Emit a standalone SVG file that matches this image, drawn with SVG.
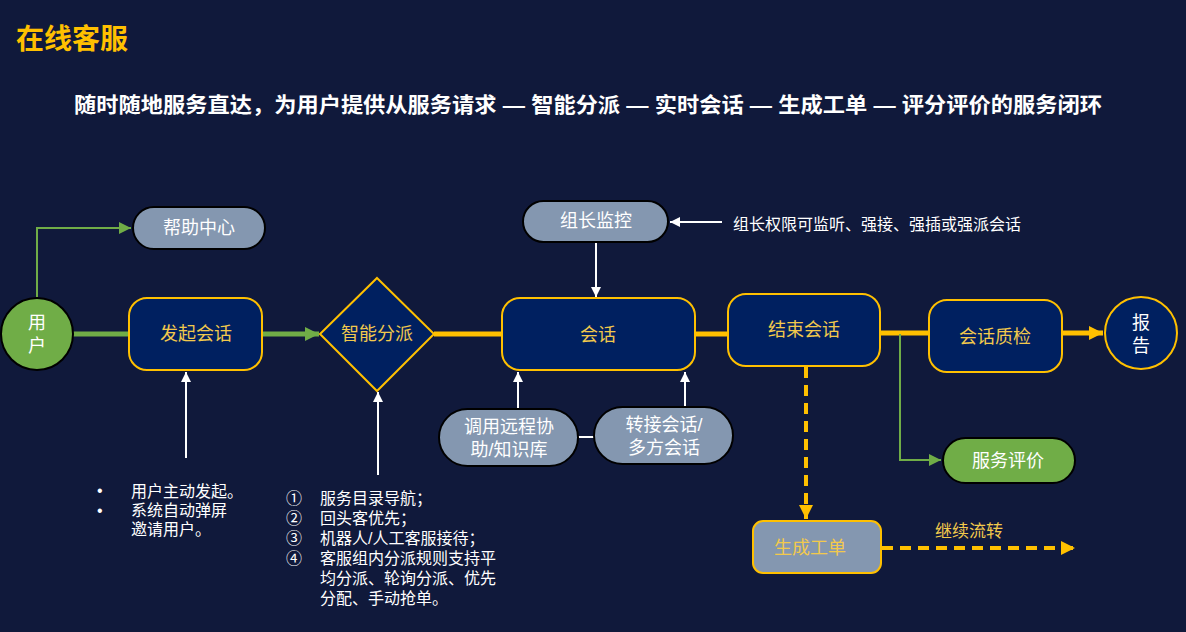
<svg xmlns="http://www.w3.org/2000/svg" width="1186" height="632" viewBox="0 0 1186 632">
<defs>
<style>
text{font-family:"Liberation Sans","Noto Sans CJK SC",sans-serif}
.navy{fill:#002060;stroke:#FFC000;stroke-width:2}
.pill{fill:#8497B0;stroke:#000;stroke-width:2}
.ytxt{fill:#F2C94C;font-size:18px;text-anchor:middle;dominant-baseline:central}
.wtxt{fill:#fff;font-size:18px;text-anchor:middle;dominant-baseline:central}
.note{fill:#fff;font-size:16px}
.yl{stroke:#FFC000;stroke-width:5;fill:none}
.gl{stroke:#70AD47;fill:none}
.wl{stroke:#fff;stroke-width:2;fill:none}
.dash{stroke:#FFC000;stroke-width:4;stroke-dasharray:11 7;fill:none}
</style>
<marker id="aw" viewBox="0 0 10 10" refX="10" refY="5" markerWidth="10" markerHeight="10" markerUnits="userSpaceOnUse" orient="auto"><path d="M0,0L10,5L0,10z" fill="#fff"/></marker>
<marker id="ag" viewBox="0 0 10 10" refX="10" refY="5" markerWidth="12" markerHeight="12" markerUnits="userSpaceOnUse" orient="auto"><path d="M0,0L10,5L0,10z" fill="#70AD47"/></marker>
<marker id="agb" viewBox="0 0 10 10" refX="10" refY="5" markerWidth="14" markerHeight="14" markerUnits="userSpaceOnUse" orient="auto"><path d="M0,0L10,5L0,10z" fill="#70AD47"/></marker>
<marker id="ay" viewBox="0 0 10 10" refX="10" refY="5" markerWidth="14" markerHeight="14" markerUnits="userSpaceOnUse" orient="auto"><path d="M0,0L10,5L0,10z" fill="#FFC000"/></marker>
</defs>
<rect width="1186" height="632" fill="#10193B"/>
<text x="16" y="49" font-size="28" font-weight="bold" fill="#FFC000">在线客服</text>
<text x="74" y="112" font-size="21" font-weight="bold" fill="#fff" textLength="1028" lengthAdjust="spacingAndGlyphs">随时随地服务直达，为用户提供从服务请求 — 智能分派 — 实时会话 — 生成工单 — 评分评价的服务闭环</text>

<g id="connectors">
<path class="gl" stroke-width="2" d="M37,297V228H131" marker-end="url(#ag)"/>
<path class="gl" stroke-width="5" d="M73,334H129"/>
<path class="gl" stroke-width="5" d="M262,334H319" marker-end="url(#agb)"/>
<path class="yl" d="M434,334H502"/>
<path class="yl" d="M695,334H728"/>
<path class="yl" d="M880,333H929"/>
<path class="yl" d="M1062,333H1103" marker-end="url(#ay)"/>
<path class="gl" stroke-width="2" d="M900,334V460H941" marker-end="url(#ag)"/>
<path class="dash" d="M806,367V519" marker-end="url(#ay)"/>
<path class="dash" d="M882,548H1075" marker-end="url(#ay)"/>
<path class="wl" d="M596,242V297" marker-end="url(#aw)"/>
<path class="wl" d="M722,222H670" marker-end="url(#aw)"/>
<path class="wl" d="M186,458V372" marker-end="url(#aw)"/>
<path class="wl" d="M378,475V392" marker-end="url(#aw)"/>
<path class="wl" d="M518,409V372" marker-end="url(#aw)"/>
<path class="wl" d="M685,407V372" marker-end="url(#aw)"/>
<path class="wl" d="M578,437H594"/>
</g>

<g id="user"><circle cx="37" cy="334" r="36" fill="#70AD47" stroke="#000" stroke-width="2"/><text class="wtxt"><tspan x="37" y="323">用</tspan><tspan x="37" y="346">户</tspan></text></g>
<g id="help"><rect class="pill" x="133" y="207" width="132" height="42" rx="21"/><text class="wtxt" x="199" y="228">帮助中心</text></g>
<g id="start"><rect class="navy" x="129" y="298" width="133" height="72" rx="18"/><text class="ytxt" x="196" y="334">发起会话</text></g>
<g id="dispatch"><path class="navy" d="M377,278L434,334L377,391L320,334Z"/><text class="ytxt" x="377" y="334">智能分派</text></g>
<g id="session"><rect class="navy" x="502" y="298" width="193" height="72" rx="18"/><text class="ytxt" x="598" y="335">会话</text></g>
<g id="end"><rect class="navy" x="728" y="294" width="152" height="72" rx="18"/><text class="ytxt" x="804" y="330">结束会话</text></g>
<g id="qa"><rect class="navy" x="929" y="300" width="133" height="72" rx="18"/><text class="ytxt" x="995" y="337">会话质检</text></g>
<g id="report"><circle class="navy" cx="1141" cy="333" r="36"/><text class="wtxt"><tspan x="1141" y="323">报</tspan><tspan x="1141" y="346">告</tspan></text></g>
<g id="monitor"><rect class="pill" x="523" y="201" width="145" height="41" rx="20.5"/><text class="wtxt" x="596" y="221">组长监控</text></g>
<g id="remote"><rect class="pill" x="439" y="409" width="139" height="57" rx="28.5"/><text class="wtxt" font-size="17"><tspan x="509" y="427">调用远程协</tspan><tspan x="509" y="450">助/知识库</tspan></text></g>
<g id="transfer"><rect class="pill" x="594" y="407" width="139" height="57" rx="28.5"/><text class="wtxt" font-size="17"><tspan x="664" y="425">转接会话/</tspan><tspan x="664" y="448">多方会话</tspan></text></g>
<g id="rating"><rect x="943" y="438" width="132" height="45" rx="22.5" fill="#70AD47" stroke="#000" stroke-width="2"/><text class="wtxt" x="1008" y="461">服务评价</text></g>
<g id="ticket"><rect x="753" y="521" width="128" height="52" rx="10" fill="#8497B0" stroke="#FFC000" stroke-width="2"/><text class="ytxt" x="810" y="548">生成工单</text></g>

<text class="note" x="733" y="230">组长权限可监听、强接、强插或强派会话</text>
<text x="935" y="537" font-size="17" fill="#F2C94C">继续流转</text>

<text class="note"><tspan x="97" y="496">•</tspan><tspan x="131" y="497">用户主动发起。</tspan><tspan x="97" y="516">•</tspan><tspan x="131" y="516">系统自动弹屏</tspan><tspan x="131" y="535">邀请用户。</tspan></text>
<text class="note"><tspan x="286" y="504">①</tspan><tspan x="320" y="504">服务目录导航；</tspan><tspan x="286" y="524">②</tspan><tspan x="320" y="524">回头客优先；</tspan><tspan x="286" y="544">③</tspan><tspan x="320" y="544">机器人/人工客服接待；</tspan><tspan x="286" y="564">④</tspan><tspan x="320" y="564">客服组内分派规则支持平</tspan><tspan x="320" y="584">均分派、轮询分派、优先</tspan><tspan x="320" y="604">分配、手动抢单。</tspan></text>
</svg>
